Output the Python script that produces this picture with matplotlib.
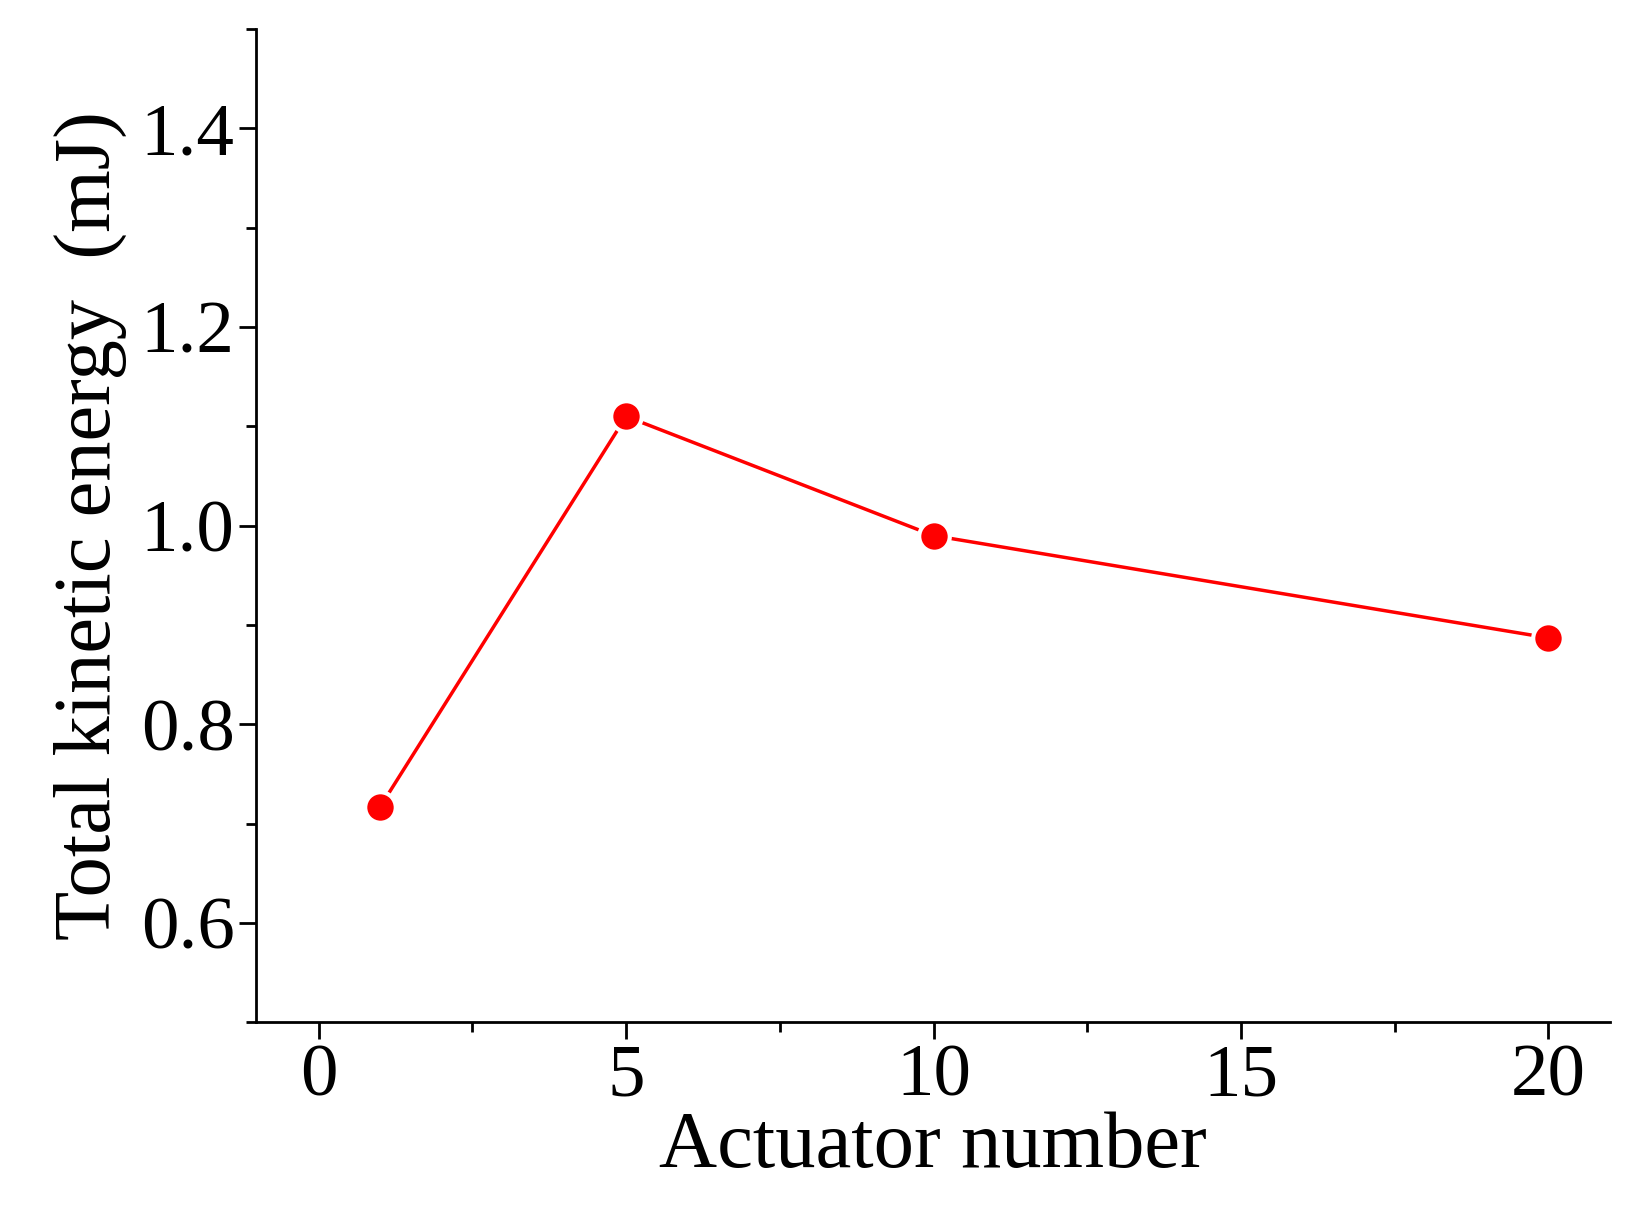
import matplotlib
matplotlib.use("Agg")
import matplotlib.pyplot as plt
from matplotlib.ticker import MultipleLocator

actuators = [1, 5, 10, 20]
energy = [0.717, 1.11, 0.99, 0.887]

plt.rcParams['font.family'] = ['Liberation Serif', 'DejaVu Serif']
fig = plt.figure(figsize=(16.31, 12.14), dpi=100)
ax = fig.add_axes([0.157, 0.158, 0.83, 0.818])
ax.plot(actuators, energy, color='red', lw=2.5, marker='o', ms=22,
        markeredgecolor='white', markeredgewidth=3, zorder=3)
ax.set_xlim(-1.02, 21)
ax.set_ylim(0.5, 1.5)
ax.xaxis.set_major_locator(MultipleLocator(5))
ax.xaxis.set_minor_locator(MultipleLocator(2.5))
ax.yaxis.set_major_locator(MultipleLocator(0.2))
ax.yaxis.set_minor_locator(MultipleLocator(0.1))
ax.set_yticks([0.6, 0.8, 1.0, 1.2, 1.4])
ax.yaxis.set_major_formatter(plt.FuncFormatter(lambda v, p: f"{v:.1f}"))
for s in ['top', 'right']:
    ax.spines[s].set_visible(False)
for s in ['left', 'bottom']:
    ax.spines[s].set_linewidth(2)
ax.tick_params(which='major', direction='out', length=12, width=2, labelsize=54)
ax.tick_params(which='minor', direction='out', length=7, width=2)
ax.set_xlabel('Actuator number', fontsize=58, labelpad=0)
ax.set_ylabel('Total kinetic energy  (mJ)', fontsize=58, labelpad=10)
fig.savefig('out.png', dpi=100, facecolor='white')
